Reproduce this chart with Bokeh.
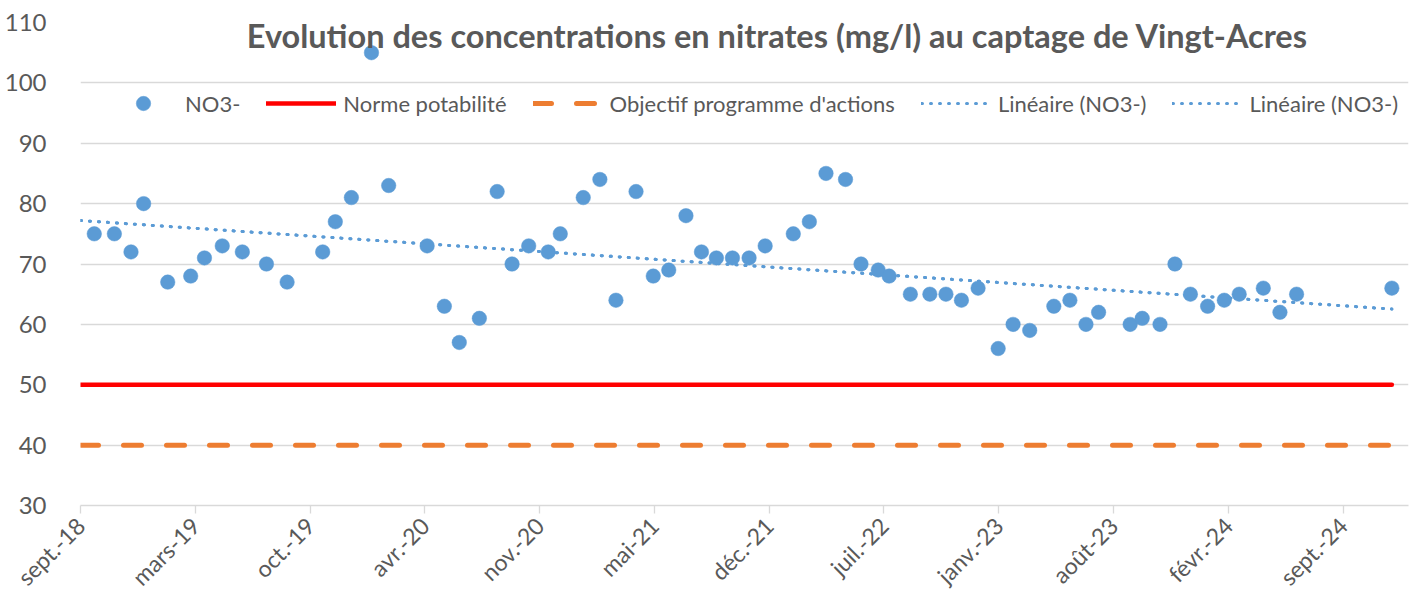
import math
from datetime import datetime, timedelta
import numpy as np
from bokeh.plotting import figure
from bokeh.models import (ColumnDataSource, FixedTicker, Range1d, Legend, LegendItem, Label)
from bokeh.embed import file_html
from bokeh.resources import INLINE

# ---------------- data ----------------
dates = [
    "2018-09-25", "2018-10-30", "2018-11-28", "2018-12-20", "2019-01-31", "2019-03-12",
    "2019-04-05", "2019-05-06", "2019-06-10", "2019-07-22", "2019-08-27", "2019-10-28",
    "2019-11-19", "2019-12-17", "2020-01-21", "2020-02-20", "2020-04-27", "2020-05-27",
    "2020-06-22", "2020-07-27", "2020-08-27", "2020-09-22", "2020-10-21", "2020-11-24",
    "2020-12-15", "2021-01-24", "2021-02-22", "2021-03-22", "2021-04-26", "2021-05-26",
    "2021-06-22", "2021-07-22", "2021-08-18", "2021-09-13", "2021-10-11", "2021-11-09",
    "2021-12-07", "2022-01-25", "2022-02-22", "2022-03-23", "2022-04-26", "2022-05-23",
    "2022-06-22", "2022-07-11", "2022-08-17", "2022-09-20", "2022-10-18", "2022-11-14",
    "2022-12-13", "2023-01-17", "2023-02-12", "2023-03-13", "2023-04-24", "2023-05-22",
    "2023-06-19", "2023-07-11", "2023-09-04", "2023-09-25", "2023-10-26", "2023-11-21",
    "2023-12-18", "2024-01-17", "2024-02-15", "2024-03-12", "2024-04-23", "2024-05-22",
    "2024-06-20", "2024-12-03",
]
no3 = [
    75, 75, 72, 80, 67, 68, 71, 73, 72, 70, 67, 72, 77, 81, 105, 83, 73, 63, 57, 61,
    82, 70, 73, 72, 75, 81, 84, 64, 82, 68, 69, 78, 72, 71, 71, 71, 73, 75, 77, 85,
    84, 70, 69, 68, 65, 65, 65, 64, 66, 56, 60, 59, 63, 64, 60, 62, 60, 61, 60, 70,
    65, 63, 64, 65, 66, 62, 65, 66,
]
norme_potabilite = 50
objectif_programme = 40
tick_labels = ["sept.-18", "mars-19", "oct.-19", "avr.-20", "nov.-20", "mai-21",
               "déc.-21", "juil.-22", "janv.-23", "août-23", "févr.-24", "sept.-24"]
axis_start = "2018-09-01"
axis_end = "2025-01-01"
tick_step_days = 200

title_text = "Evolution des concentrations en nitrates (mg/l) au captage de Vingt-Acres"

# ---------------- helpers ----------------
FONT = "Lato"
GREY = "#595959"
BLUE = "#5B9BD5"
EPOCH = datetime(1970, 1, 1)

def to_ms(d):
    return (d - EPOCH).total_seconds() * 1000.0

dt = [datetime.strptime(s, "%Y-%m-%d") for s in dates]
x0 = datetime.strptime(axis_start, "%Y-%m-%d")
x1 = datetime.strptime(axis_end, "%Y-%m-%d")

ticks = [to_ms(x0 + timedelta(days=tick_step_days * i)) for i in range(len(tick_labels))]
overrides = {t: lab for t, lab in zip(ticks, tick_labels)}

# linear trend (Excel "Linéaire")
days = np.array([(d - x0).days for d in dt], dtype=float)
slope, intercept = np.polyfit(days, np.array(no3, dtype=float), 1)
trend_x = [x0, dt[-1]]
trend_y = [intercept, intercept + slope * (dt[-1] - x0).days]

W, H = 1418, 606
p = figure(width=W, height=H, x_axis_type="datetime",
           output_backend="svg", toolbar_location=None,
           x_range=Range1d(to_ms(x0), to_ms(x1)), y_range=Range1d(30, 110),
           min_border_left=80, min_border_right=10, min_border_top=22, min_border_bottom=H - 505)
p.outline_line_color = None
p.background_fill_color = "white"
p.border_fill_color = "white"

# grid
p.xgrid.grid_line_color = None
p.ygrid.grid_line_color = "#D9D9D9"
p.ygrid.grid_line_width = 1.3
p.yaxis.ticker = FixedTicker(ticks=list(range(30, 111, 10)))

# axes
p.xaxis.ticker = FixedTicker(ticks=ticks)
p.xaxis.major_label_overrides = overrides
p.xaxis.major_label_orientation = math.pi / 4
p.xaxis.axis_line_color = "#D9D9D9"
p.xaxis.axis_line_width = 1.3
p.xaxis.major_tick_line_color = "#D9D9D9"
p.xaxis.major_tick_line_width = 1.3
p.xaxis.major_tick_in = 0
p.xaxis.major_tick_out = 8
p.xaxis.minor_tick_line_color = None
p.xaxis.major_label_standoff = 8
p.xaxis.major_label_text_font_size = "23px"
p.yaxis.axis_line_color = None
p.yaxis.major_tick_line_color = None
p.yaxis.minor_tick_line_color = None
p.yaxis.major_label_standoff = 28
p.yaxis.major_label_text_font_size = "24px"
for ax in (p.xaxis, p.yaxis):
    ax.major_label_text_font = FONT
    ax.major_label_text_color = GREY

src = ColumnDataSource(dict(x=dt, y=no3))

r_red = p.line([x0, dt[-1]], [norme_potabilite, norme_potabilite], line_color="#FF0000",
               line_width=4.5, line_cap="round")
r_orange = p.line([x0, dt[-1]], [objectif_programme, objectif_programme], line_color="#ED7D31",
                  line_width=5, line_dash="18 25", line_cap="round")
r_trend1 = p.line(trend_x, trend_y, line_color=BLUE, line_width=3, line_dash="1 8", line_cap="round")
r_trend2 = p.line(trend_x, trend_y, line_color=BLUE, line_width=3, line_dash="1 8", line_cap="round")
r_pts = p.scatter("x", "y", source=src, size=14.5, fill_color=BLUE, line_color=BLUE, line_width=0.5)

legend = Legend(items=[
    LegendItem(label="NO3-", renderers=[r_pts]),
    LegendItem(label="Norme potabilité", renderers=[r_red]),
    LegendItem(label="Objectif programme d'actions", renderers=[r_orange]),
    LegendItem(label="Linéaire (NO3-)", renderers=[r_trend1]),
    LegendItem(label="Linéaire (NO3-)", renderers=[r_trend2]),
], orientation="horizontal", location=(28, 483 - 81 - 18))
legend.background_fill_alpha = 0
legend.border_line_alpha = 0
legend.padding = 0
legend.margin = 0
legend.spacing = 26
legend.glyph_width = 70
legend.glyph_height = 36
legend.label_height = 36
legend.label_standoff = 7
legend.label_text_font = FONT
legend.label_text_font_size = "22px"
legend.label_text_color = GREY
p.add_layout(legend, "center")

title = Label(x=697, y=470, x_units="screen", y_units="screen", text=title_text,
              text_font=FONT, text_font_size="32.5px", text_font_style="bold",
              text_color=GREY, text_align="center", text_baseline="middle")
p.add_layout(title)

open("out.html", "w").write(file_html(p, INLINE))
